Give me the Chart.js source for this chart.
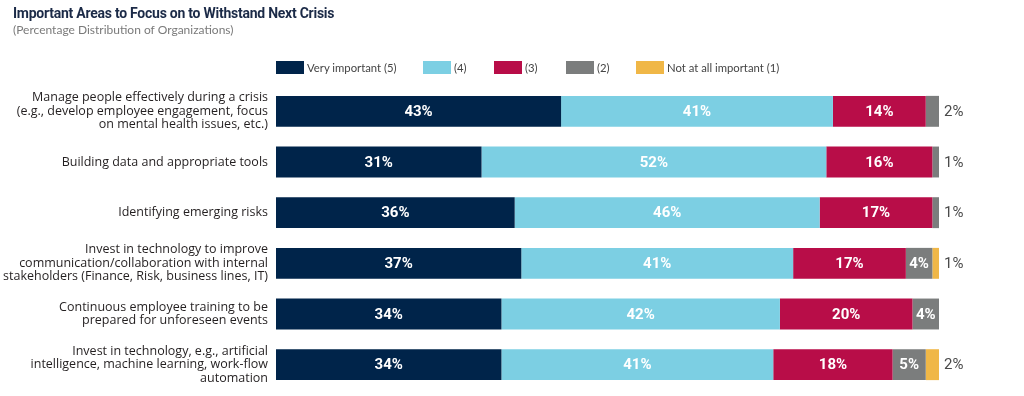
<!DOCTYPE html>
<html><head><meta charset="utf-8">
<script src="https://cdn.jsdelivr.net/npm/chart.js@4.4.1/dist/chart.umd.min.js"></script>
<style>
html,body{margin:0;padding:0;background:#fff;width:1024px;height:396px;overflow:hidden;font-family:Lato,Roboto,sans-serif;}
#wrap{position:relative;width:1024px;height:396px;}
#c{position:absolute;left:0;top:0;}
#title{position:absolute;left:13px;top:5px;font:bold 14px Roboto,sans-serif;color:#1b2a47;letter-spacing:-0.25px;white-space:nowrap;}
#sub{position:absolute;left:13px;top:22px;font:12px Lato,sans-serif;color:#7a7a7a;white-space:nowrap;}
#legend{position:absolute;left:0;top:61px;height:13px;}
.li{position:absolute;top:0;display:flex;align-items:center;font:11.3px Lato,sans-serif;color:#444;white-space:nowrap;height:13px;}
.li span.b{display:inline-block;width:28px;height:13px;margin-right:3px;}
</style></head>
<body><div id="wrap">
<canvas id="c" width="1024" height="396"></canvas>
<div id="title">Important Areas to Focus on to Withstand Next Crisis</div>
<div id="sub">(Percentage Distribution of Organizations)</div>
<div id="legend"></div>
</div>
<script>
const categories = [
  ["Manage people effectively during a crisis","(e.g., develop employee engagement, focus","on mental health issues, etc.)"],
  ["Building data and appropriate tools"],
  ["Identifying emerging risks"],
  ["Invest in technology to improve","communication/collaboration with internal","stakeholders (Finance, Risk, business lines, IT)"],
  ["Continuous employee training to be","prepared for unforeseen events"],
  ["Invest in technology, e.g., artificial","intelligence, machine learning, work-flow","automation"]
];
const seriesNames = ["Very important (5)","(4)","(3)","(2)","Not at all important (1)"];
const veryImportant5 = [43,31,36,37,34,34];
const important4 = [41,52,46,41,42,41];
const important3 = [14,16,17,17,20,18];
const important2 = [2,1,1,4,4,5];
const notImportant1 = [0,0,0,1,0,2];
const colors = ["#00244a","#7ccfe3","#b80d48","#7b7d7d","#f0b747"];
const legendLefts = [276,423,494,566,636];

const seriesValues = [veryImportant5, important4, important3, important2, notImportant1];

const lg = document.getElementById('legend');
seriesNames.forEach((n,i)=>{
  const d=document.createElement('div');d.className='li';d.style.left=legendLefts[i]+'px';
  d.innerHTML='<span class="b" style="background:'+colors[i]+'"></span>'+n;
  lg.appendChild(d);
});

const labelPlugin = {
  id:'barLabels',
  afterDatasetsDraw(chart){
    const ctx=chart.ctx;
    ctx.save();
    ctx.textBaseline='middle';
    chart.data.datasets.forEach((ds,di)=>{
      const meta=chart.getDatasetMeta(di);
      meta.data.forEach((el,i)=>{
        const v=ds.data[i];
        if(!v) return;
        if(v>=4){
          ctx.font='bold 15px Roboto, sans-serif';
          ctx.fillStyle='#ffffff';
          ctx.textAlign='center';
          ctx.fillText(v+'%',(el.x+el.base)/2,el.y+1);
        } else {
          ctx.font='15px Roboto, sans-serif';
          ctx.fillStyle='#4a4a4a';
          ctx.textAlign='left';
          ctx.fillText(v+'%',chart.chartArea.right+5,el.y+1);
        }
      });
    });
    ctx.restore();
  }
};

new Chart(document.getElementById('c'),{
  type:'bar',
  data:{
    labels:categories,
    datasets:seriesValues.map((d,i)=>({label:seriesNames[i],data:d,backgroundColor:colors[i],borderWidth:0,barPercentage:0.61,categoryPercentage:1}))
  },
  options:{
    indexAxis:'y',
    responsive:false,
    animation:false,
    layout:{padding:{left:0,right:85,top:86,bottom:6}},
    plugins:{legend:{display:false},tooltip:{enabled:false},title:{display:false}},
    scales:{
      x:{stacked:true,min:0,max:100,display:false},
      y:{stacked:true,
        grid:{display:false,drawTicks:false},
        border:{display:false},
        afterFit(s){s.width=276;s.paddingTop=0;s.paddingBottom=0;},
        ticks:{padding:8,color:'#231f20',font:{family:'Open Sans',size:12.5,lineHeight:1.08}}
      }
    }
  },
  plugins:[labelPlugin]
});
</script>
</body></html>
